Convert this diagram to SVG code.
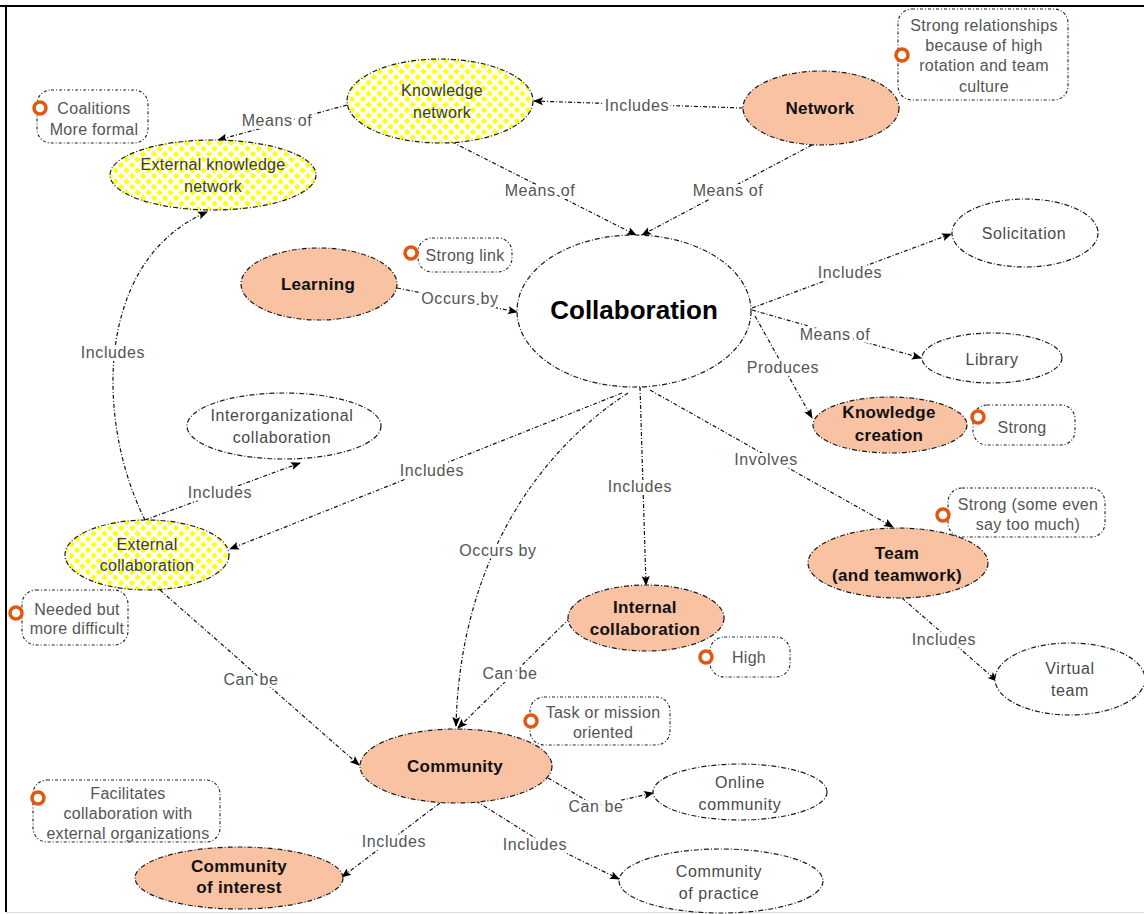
<svg xmlns="http://www.w3.org/2000/svg" width="1144" height="914" viewBox="0 0 1144 914">
  <defs>
    <!-- yellow diamond checker used by the "knowledge network" family of concepts -->
    <pattern id="diamonds" width="11" height="11" patternUnits="userSpaceOnUse">
      <rect width="11" height="11" fill="#ffffff"/>
      <path d="M5.5,2.3 L8.7,5.5 L5.5,8.7 L2.3,5.5 Z" fill="#ffff10"/>
      <path d="M0,-3.2 L3.2,0 L0,3.2 L-3.2,0 Z M11,-3.2 L14.2,0 L11,3.2 L7.8,0 Z M0,7.8 L3.2,11 L0,14.2 L-3.2,11 Z M11,7.8 L14.2,11 L11,14.2 L7.8,11 Z" fill="#ffff10"/>
    </pattern>
    <marker id="arrow" viewBox="0 0 10 10" refX="9" refY="5" markerWidth="10" markerHeight="10" markerUnits="userSpaceOnUse" orient="auto">
      <path d="M0,1 L10,5 L0,9 L2,5 Z" fill="#000"/>
    </marker>
    <style>
      .frame { stroke: #000; stroke-width: 2; fill: none; }
      .concept { stroke: #1a1a1a; stroke-width: 1.2; stroke-dasharray: 5 2 1 2; }
      .plain { fill: #ffffff; }
      .salmon { fill: #f8c2a3; }
      .yellow { fill: url(#diamonds); }
      .note { fill: #ffffff; stroke: #222; stroke-width: 1.1; stroke-dasharray: 3 2 1 2; }
      .ring { fill: #ffffff; stroke: #e2570e; stroke-width: 3.5; }
      .link { fill: none; stroke: #111; stroke-width: 1.2; stroke-dasharray: 4 2 1 2; marker-end: url(#arrow); }
      .lbl { font-family: "Liberation Sans", Arial, sans-serif; font-size: 16px; fill: #555; text-anchor: middle; letter-spacing: 0.6px; paint-order: stroke; stroke: #ffffff; stroke-width: 6px; stroke-linejoin: round; }
      .t { font-family: "Liberation Sans", Arial, sans-serif; font-size: 16px; fill: #4a4a4a; text-anchor: middle; letter-spacing: 0.6px; }
      .ty { font-family: "Liberation Sans", Arial, sans-serif; font-size: 16px; fill: #3a3a3a; text-anchor: middle; letter-spacing: 0.3px; }
      .tb { font-family: "Liberation Sans", Arial, sans-serif; font-size: 17px; font-weight: bold; fill: #111; text-anchor: middle; letter-spacing: 0.3px; }
      .tn { font-family: "Liberation Sans", Arial, sans-serif; font-size: 16px; fill: #555; text-anchor: middle; letter-spacing: 0.3px; }
    </style>
  </defs>

  <rect width="1144" height="914" fill="#ffffff"/>
  <line class="frame" x1="0" y1="6" x2="1144" y2="6"/>
  <line class="frame" x1="6" y1="5" x2="6" y2="912"/>
  <line x1="6" y1="912.5" x2="1144" y2="912.5" stroke="#dddddd" stroke-width="1"/>

  <!-- connectors -->
  <g id="connectors">
    <line class="link" x1="743" y1="108" x2="534" y2="101"/>
    <line class="link" x1="452" y1="142" x2="636" y2="235"/>
    <line class="link" x1="812" y1="145" x2="642" y2="235"/>
    <line class="link" x1="347" y1="105" x2="218" y2="140"/>
    <path class="link" d="M145,520 C95,420 95,260 207,212"/>
    <line class="link" x1="397" y1="288" x2="517" y2="312"/>
    <line class="link" x1="752" y1="308" x2="951" y2="234"/>
    <line class="link" x1="752" y1="310" x2="921" y2="358"/>
    <line class="link" x1="755" y1="316" x2="812" y2="418"/>
    <line class="link" x1="650" y1="390" x2="893" y2="527"/>
    <line class="link" x1="640" y1="387" x2="646" y2="585"/>
    <line class="link" x1="622" y1="393" x2="230" y2="549"/>
    <path class="link" d="M628,393 C540,450 460,560 456,726"/>
    <line class="link" x1="145" y1="520" x2="300" y2="463"/>
    <line class="link" x1="160" y1="590" x2="359" y2="765"/>
    <line class="link" x1="570" y1="618" x2="458" y2="728"/>
    <line class="link" x1="902" y1="598" x2="997" y2="681"/>
    <polyline class="link" points="548,778 596,806 653,793"/>
    <polyline class="link" points="476,801 535,838 619,879"/>
    <line class="link" x1="440" y1="803" x2="342" y2="877"/>

    <text class="lbl" x="637" y="111">Includes</text>
    <text class="lbl" x="277" y="126">Means of</text>
    <text class="lbl" x="540" y="196">Means of</text>
    <text class="lbl" x="728" y="196">Means of</text>
    <text class="lbl" x="113" y="358">Includes</text>
    <text class="lbl" x="460" y="304">Occurs by</text>
    <text class="lbl" x="850" y="278">Includes</text>
    <text class="lbl" x="835" y="340">Means of</text>
    <text class="lbl" x="783" y="373">Produces</text>
    <text class="lbl" x="432" y="476">Includes</text>
    <text class="lbl" x="220" y="498">Includes</text>
    <text class="lbl" x="640" y="492">Includes</text>
    <text class="lbl" x="766" y="465">Involves</text>
    <text class="lbl" x="498" y="556">Occurs by</text>
    <text class="lbl" x="251" y="685">Can be</text>
    <text class="lbl" x="510" y="679">Can be</text>
    <text class="lbl" x="944" y="645">Includes</text>
    <text class="lbl" x="596" y="812">Can be</text>
    <text class="lbl" x="394" y="847">Includes</text>
    <text class="lbl" x="535" y="850">Includes</text>
  </g>

  <!-- concepts -->
  <g id="knowledge-network">
    <ellipse class="concept yellow" cx="440" cy="101" rx="93" ry="42"/>
    <text class="ty" x="442" y="96">Knowledge</text>
    <text class="ty" x="442" y="118">network</text>
  </g>
  <g id="external-knowledge-network">
    <ellipse class="concept yellow" cx="213" cy="175" rx="103" ry="35"/>
    <text class="ty" x="213" y="170">External knowledge</text>
    <text class="ty" x="213" y="192">network</text>
  </g>
  <g id="network">
    <ellipse class="concept salmon" cx="821" cy="108" rx="78" ry="37"/>
    <text class="tb" x="820" y="114">Network</text>
  </g>
  <g id="collaboration">
    <ellipse class="concept plain" cx="634" cy="311" rx="117" ry="76"/>
    <text x="634" y="319" font-family="'Liberation Sans', Arial, sans-serif" font-size="26" font-weight="bold" fill="#000" text-anchor="middle">Collaboration</text>
  </g>
  <g id="learning">
    <ellipse class="concept salmon" cx="319" cy="284" rx="78" ry="36"/>
    <text class="tb" x="318" y="290">Learning</text>
  </g>
  <g id="solicitation">
    <ellipse class="concept plain" cx="1025" cy="233" rx="73" ry="34"/>
    <text class="t" x="1024" y="239">Solicitation</text>
  </g>
  <g id="library">
    <ellipse class="concept plain" cx="992" cy="358" rx="70" ry="25"/>
    <text class="t" x="992" y="365">Library</text>
  </g>
  <g id="knowledge-creation">
    <ellipse class="concept salmon" cx="890" cy="425" rx="77" ry="28"/>
    <text class="tb" x="889" y="418">Knowledge</text>
    <text class="tb" x="889" y="441">creation</text>
  </g>
  <g id="interorganizational-collaboration">
    <ellipse class="concept plain" cx="284" cy="426" rx="97" ry="33"/>
    <text class="t" x="282" y="421">Interorganizational</text>
    <text class="t" x="282" y="443">collaboration</text>
  </g>
  <g id="external-collaboration">
    <ellipse class="concept yellow" cx="147" cy="555" rx="82" ry="35"/>
    <text class="ty" x="147" y="550">External</text>
    <text class="ty" x="147" y="571">collaboration</text>
  </g>
  <g id="internal-collaboration">
    <ellipse class="concept salmon" cx="646" cy="618" rx="78" ry="33"/>
    <text class="tb" x="645" y="613">Internal</text>
    <text class="tb" x="645" y="635">collaboration</text>
  </g>
  <g id="team">
    <ellipse class="concept salmon" cx="898" cy="563" rx="90" ry="35"/>
    <text class="tb" x="897" y="559">Team</text>
    <text class="tb" x="897" y="581">(and teamwork)</text>
  </g>
  <g id="virtual-team">
    <ellipse class="concept plain" cx="1070" cy="679" rx="75" ry="36"/>
    <text class="t" x="1070" y="674">Virtual</text>
    <text class="t" x="1070" y="696">team</text>
  </g>
  <g id="community">
    <ellipse class="concept salmon" cx="456" cy="766" rx="96" ry="37"/>
    <text class="tb" x="455" y="772">Community</text>
  </g>
  <g id="online-community">
    <ellipse class="concept plain" cx="740" cy="792" rx="87" ry="28"/>
    <text class="t" x="740" y="788">Online</text>
    <text class="t" x="740" y="810">community</text>
  </g>
  <g id="community-of-practice">
    <ellipse class="concept plain" cx="721" cy="881" rx="102" ry="32"/>
    <text class="t" x="719" y="877">Community</text>
    <text class="t" x="719" y="899">of practice</text>
  </g>
  <g id="community-of-interest">
    <ellipse class="concept salmon" cx="239" cy="878" rx="104" ry="31"/>
    <text class="tb" x="239" y="872">Community</text>
    <text class="tb" x="239" y="893">of interest</text>
  </g>

  <!-- annotations -->
  <g id="note-network">
    <rect class="note" x="898" y="9" width="170" height="91" rx="14"/>
    <circle class="ring" cx="902" cy="55" r="6"/>
    <text class="tn" x="984" y="31">Strong relationships</text>
    <text class="tn" x="984" y="51">because of high</text>
    <text class="tn" x="984" y="71">rotation and team</text>
    <text class="tn" x="984" y="92">culture</text>
  </g>
  <g id="note-coalitions">
    <rect class="note" x="37" y="90" width="111" height="53" rx="14"/>
    <circle class="ring" cx="40" cy="108" r="6"/>
    <text class="tn" x="94" y="114">Coalitions</text>
    <text class="tn" x="94" y="135">More formal</text>
  </g>
  <g id="note-learning">
    <rect class="note" x="418" y="238" width="94" height="34" rx="14"/>
    <circle class="ring" cx="411" cy="253" r="6"/>
    <text class="tn" x="465" y="261">Strong link</text>
  </g>
  <g id="note-knowledge-creation">
    <rect class="note" x="973" y="405" width="102" height="40" rx="14"/>
    <circle class="ring" cx="978" cy="417" r="6"/>
    <text class="tn" x="1022" y="433">Strong</text>
  </g>
  <g id="note-external-collaboration">
    <rect class="note" x="22" y="590" width="106" height="55" rx="14"/>
    <circle class="ring" cx="16" cy="613" r="6"/>
    <text class="tn" x="77" y="615">Needed but</text>
    <text class="tn" x="77" y="634">more difficult</text>
  </g>
  <g id="note-internal-collaboration">
    <rect class="note" x="710" y="637" width="80" height="40" rx="14"/>
    <circle class="ring" cx="706" cy="657" r="6"/>
    <text class="tn" x="749" y="663">High</text>
  </g>
  <g id="note-team">
    <rect class="note" x="948" y="488" width="157" height="49" rx="14"/>
    <circle class="ring" cx="943" cy="515" r="6"/>
    <text class="tn" x="1028" y="510">Strong (some even</text>
    <text class="tn" x="1028" y="530">say too much)</text>
  </g>
  <g id="note-community">
    <rect class="note" x="530" y="697" width="140" height="48" rx="14"/>
    <circle class="ring" cx="531" cy="721" r="6"/>
    <text class="tn" x="603" y="718">Task or mission</text>
    <text class="tn" x="603" y="738">oriented</text>
  </g>
  <g id="note-community-of-interest">
    <rect class="note" x="33" y="780" width="187" height="62" rx="14"/>
    <circle class="ring" cx="38" cy="798" r="6"/>
    <text class="tn" x="128" y="799">Facilitates</text>
    <text class="tn" x="128" y="819">collaboration with</text>
    <text class="tn" x="128" y="839">external organizations</text>
  </g>
</svg>
